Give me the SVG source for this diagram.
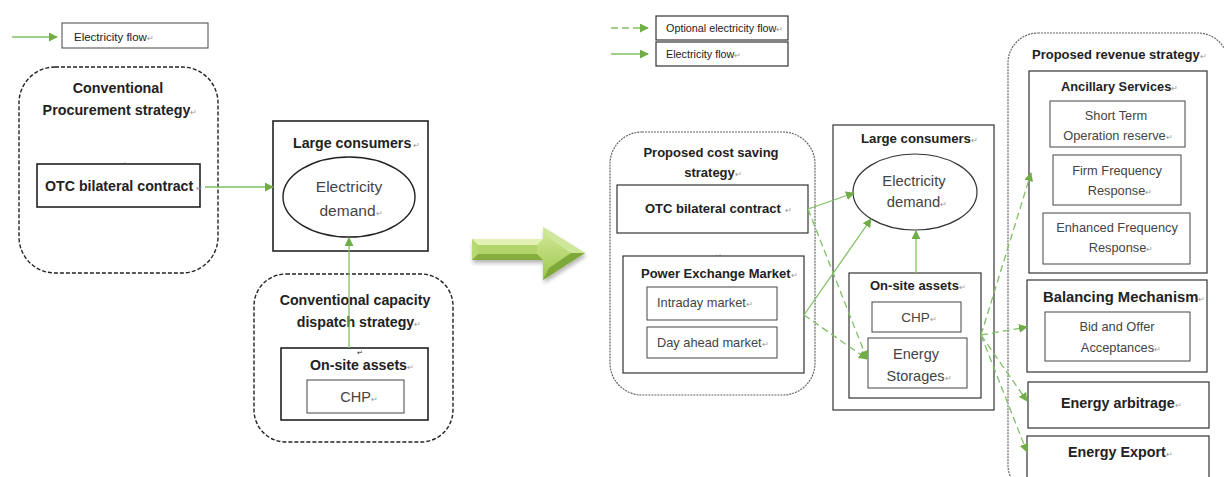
<svg xmlns="http://www.w3.org/2000/svg" width="1224" height="477" viewBox="0 0 1224 477">
<defs>
<style>
text{font-family:"Liberation Sans",Arial,sans-serif;fill:#222}
.b{font-weight:bold}
.n{fill:#444}
.m{fill:#999;font-size:8px;font-weight:normal}
.box{fill:#fff;stroke:#222;stroke-width:1.6}
.box2{fill:#fff;stroke:#333;stroke-width:1.2}
.sub{fill:#fff;stroke:#444;stroke-width:1}
.dl{fill:none;stroke:#222;stroke-width:1.4;stroke-dasharray:4 2}
.dr{fill:none;stroke:#666;stroke-width:1.2;stroke-dasharray:2 1}
.c{fill:none;stroke:#82c066;stroke-width:1.3}
.cd{fill:none;stroke:#82c066;stroke-width:1.3;stroke-dasharray:7 4}
</style>
<marker id="ah" viewBox="0 0 10 10" refX="9" refY="5" markerWidth="9" markerHeight="9" markerUnits="userSpaceOnUse" orient="auto">
<path d="M0,0 L10,5 L0,10 z" fill="#70ad47"/>
</marker>
<linearGradient id="ag" x1="0" y1="0" x2="0" y2="1">
<stop offset="0" stop-color="#d4ea9a"/>
<stop offset="1" stop-color="#9cc74e"/>
</linearGradient>
<filter id="sh" x="-20%" y="-20%" width="140%" height="160%">
<feGaussianBlur in="SourceAlpha" stdDeviation="2"/>
<feOffset dx="1" dy="3"/>
<feComponentTransfer><feFuncA type="linear" slope="0.3"/></feComponentTransfer>
<feMerge><feMergeNode/><feMergeNode in="SourceGraphic"/></feMerge>
</filter>
</defs>
<rect width="1224" height="477" fill="#fff"/>

<!-- Left legend -->
<g id="legend-left">
<line x1="12" y1="37" x2="57" y2="37" class="c" marker-end="url(#ah)"/>
<rect x="62" y="23" width="146" height="25" class="sub"/>
<text x="74" y="41" font-size="11.5">Electricity flow<tspan class="m">↵</tspan></text>
</g>

<g id="conv-procurement">
<rect x="19" y="67" width="199" height="206" rx="36" class="dl"/>
<text x="118" y="93" font-size="14.3" class="b" text-anchor="middle">Conventional</text>
<text x="120" y="115" font-size="14.3" class="b" text-anchor="middle">Procurement strategy<tspan class="m">↵</tspan></text>
</g>

<g id="otc-left">
<text x="123" y="167" class="m" text-anchor="middle">↵</text>
<rect x="37" y="164" width="163" height="43" class="box"/>
<text x="45" y="191" font-size="14.2" class="b">OTC bilateral contract<tspan class="m" dx="3">↵</tspan></text>
</g>

<g id="large-consumers-left">
<rect x="273" y="121" width="155" height="130" class="box"/>
<text x="293" y="148" font-size="14.2" class="b">Large consumers<tspan class="m" dx="2">↵</tspan></text>
<ellipse cx="349" cy="197" rx="66" ry="40" fill="#fff" stroke="#222" stroke-width="1.4"/>
<text x="349" y="192" font-size="15.5" class="n" text-anchor="middle">Electricity</text>
<text x="351" y="216" font-size="15.5" class="n" text-anchor="middle">demand<tspan class="m">↵</tspan></text>
</g>

<g id="conv-dispatch">
<rect x="254" y="274" width="199" height="168" rx="32" class="dl"/>
<text x="355" y="305" font-size="14.2" class="b" text-anchor="middle">Conventional capacity</text>
<text x="359" y="327" font-size="14.2" class="b" text-anchor="middle">dispatch strategy<tspan class="m">↵</tspan></text>
</g>

<g id="onsite-left">
<rect x="281" y="348" width="147" height="72" class="box"/>
<text x="360" y="355" font-size="7" fill="#999" text-anchor="middle">↵</text>
<text x="362" y="370" font-size="14.2" class="b" text-anchor="middle">On-site assets<tspan class="m">↵</tspan></text>
<rect x="307" y="380" width="97" height="33" class="sub"/>
<text x="359" y="402" font-size="14.5" class="n" text-anchor="middle">CHP<tspan class="m">↵</tspan></text>
</g>

<!-- Big 3D arrow -->
<g id="transition-arrow" filter="url(#sh)">
<polygon points="472,239 543,239 543,227 585,253 543,280 543,260 472,260" fill="url(#ag)"/>
<polygon points="472,239 543,239 537,245 478,245" fill="#e2f2b4"/>
<polygon points="472,239 478,245 478,254 472,260" fill="#b7d873"/>
<polygon points="472,260 478,254 537,254 543,260" fill="#86ad3e"/>
<polygon points="543,227 585,253 571,253 549,238" fill="#cfe79a"/>
<polygon points="543,280 585,253 571,253 549,268" fill="#7fa83a"/>
<polygon points="478,245 537,245 537,254 478,254" fill="#b3d46a"/>
</g>

<!-- Right legend -->
<g id="legend-right">
<line x1="611" y1="28" x2="648" y2="28" class="cd" marker-end="url(#ah)"/>
<rect x="656" y="16" width="132" height="24" class="box2"/>
<text x="666" y="32" font-size="10.8">Optional electricity flow<tspan class="m">↵</tspan></text>
<line x1="611" y1="54" x2="648" y2="54" class="c" marker-end="url(#ah)"/>
<rect x="656" y="42" width="132" height="24" class="box2"/>
<text x="666" y="58" font-size="10.8">Electricity flow<tspan class="m">↵</tspan></text>
</g>

<g id="cost-saving">
<rect x="610" y="132" width="205" height="263" rx="32" class="dr"/>
<text x="711" y="157" font-size="13" class="b" text-anchor="middle">Proposed cost saving</text>
<text x="713" y="177" font-size="13" class="b" text-anchor="middle">strategy<tspan class="m">↵</tspan></text>
</g>

<g id="otc-right">
<rect x="617" y="185" width="191" height="48" class="box2"/>
<text x="645" y="213" font-size="13" class="b">OTC bilateral contract<tspan class="m" dx="4">↵</tspan></text>
</g>

<g id="power-exchange">
<text x="718" y="259" class="m" text-anchor="middle">↵</text>
<rect x="623" y="256" width="181" height="117" class="box2"/>
<text x="641" y="278" font-size="13" class="b">Power Exchange Market<tspan class="m">↵</tspan></text>
</g>
<g id="intraday">
<rect x="647" y="287" width="130" height="33" class="sub"/>
<text x="657" y="307" font-size="12.8" class="n">Intraday market<tspan class="m">↵</tspan></text>
</g>
<g id="day-ahead">
<rect x="647" y="327" width="130" height="31" class="sub"/>
<text x="657" y="347" font-size="12.8" class="n">Day ahead market<tspan class="m">↵</tspan></text>
</g>

<g id="large-consumers-right">
<rect x="833" y="125" width="161" height="285" class="box2"/>
<text x="861" y="143" font-size="13.2" class="b">Large consumers<tspan class="m">↵</tspan></text>
<ellipse cx="915" cy="192" rx="62" ry="38" fill="#fff" stroke="#333" stroke-width="1.2"/>
<text x="914" y="186" font-size="14.8" class="n" text-anchor="middle">Electricity</text>
<text x="917" y="207" font-size="14.8" class="n" text-anchor="middle">demand<tspan class="m">↵</tspan></text>
</g>

<g id="onsite-right">
<rect x="849" y="273" width="132" height="125" class="box2"/>
<text x="870" y="290" font-size="13" class="b">On-site assets<tspan class="m">↵</tspan></text>
</g>
<g id="chp-right">
<rect x="872" y="302" width="89" height="30" class="sub"/>
<text x="919" y="322" font-size="13.5" class="n" text-anchor="middle">CHP<tspan class="m">↵</tspan></text>
</g>
<g id="energy-storages">
<rect x="868" y="338" width="99" height="50" class="sub"/>
<text x="916" y="359" font-size="14.5" class="n" text-anchor="middle">Energy</text>
<text x="919" y="381" font-size="14.5" class="n" text-anchor="middle">Storages<tspan class="m">↵</tspan></text>
</g>

<g id="revenue-strategy">
<rect x="1008" y="33" width="220" height="462" rx="30" class="dr"/>
<text x="1032" y="59" font-size="13" class="b">Proposed revenue strategy<tspan class="m">↵</tspan></text>
</g>

<g id="ancillary">
<rect x="1029" y="71" width="178" height="202" class="box2"/>
<text x="1061" y="91" font-size="12.8" class="b">Ancillary Services<tspan class="m">↵</tspan></text>
</g>
<g id="stor">
<rect x="1050" y="101" width="135" height="46" class="sub"/>
<text x="1116" y="120" font-size="12.8" class="n" text-anchor="middle">Short Term</text>
<text x="1118" y="140" font-size="12.8" class="n" text-anchor="middle">Operation reserve<tspan class="m">↵</tspan></text>
</g>
<g id="ffr">
<rect x="1053" y="155" width="128" height="50" class="sub"/>
<text x="1117" y="175" font-size="12.8" class="n" text-anchor="middle">Firm Frequency</text>
<text x="1120" y="195" font-size="12.8" class="n" text-anchor="middle">Response<tspan class="m">↵</tspan></text>
</g>
<g id="efr">
<rect x="1043" y="213" width="147" height="51" class="sub"/>
<text x="1117" y="232" font-size="12.8" class="n" text-anchor="middle">Enhanced Frequency</text>
<text x="1121" y="252" font-size="12.8" class="n" text-anchor="middle">Response<tspan class="m">↵</tspan></text>
</g>

<g id="balancing">
<rect x="1027" y="280" width="180" height="92" class="box2"/>
<text x="1043" y="302" font-size="14.8" class="b">Balancing Mechanism<tspan class="m">↵</tspan></text>
</g>
<g id="bid-offer">
<rect x="1045" y="312" width="145" height="49" class="sub"/>
<text x="1117" y="331" font-size="12.8" class="n" text-anchor="middle">Bid and Offer</text>
<text x="1121" y="352" font-size="12.8" class="n" text-anchor="middle">Acceptances<tspan class="m">↵</tspan></text>
</g>

<g id="arbitrage">
<rect x="1028" y="382" width="181" height="46" class="box2"/>
<text x="1061" y="408" font-size="14.3" class="b">Energy arbitrage<tspan class="m">↵</tspan></text>
</g>
<g id="export">
<rect x="1027" y="436" width="182" height="50" class="box2"/>
<text x="1068" y="457" font-size="14.3" class="b">Energy Export<tspan class="m">↵</tspan></text>
</g>

<!-- Connectors -->
<g id="connectors">
<line x1="205" y1="187" x2="273" y2="187" class="c" marker-end="url(#ah)"/>
<line x1="349" y1="348" x2="349" y2="238" class="c" marker-end="url(#ah)"/>
<line x1="808" y1="209" x2="854" y2="193" class="c" marker-end="url(#ah)"/>
<line x1="804" y1="315" x2="871" y2="219" class="c" marker-end="url(#ah)"/>
<line x1="808" y1="209" x2="867" y2="359" class="cd" marker-end="url(#ah)"/>
<line x1="804" y1="315" x2="867" y2="359" class="cd" marker-end="url(#ah)"/>
<line x1="916" y1="273" x2="916" y2="231" class="c" marker-end="url(#ah)"/>
<line x1="981" y1="335" x2="1031" y2="173" class="cd" marker-end="url(#ah)"/>
<line x1="981" y1="335" x2="1027" y2="327" class="cd" marker-end="url(#ah)"/>
<line x1="981" y1="335" x2="1027" y2="401" class="cd" marker-end="url(#ah)"/>
<line x1="981" y1="335" x2="1027" y2="452" class="cd" marker-end="url(#ah)"/>
</g>
</svg>
